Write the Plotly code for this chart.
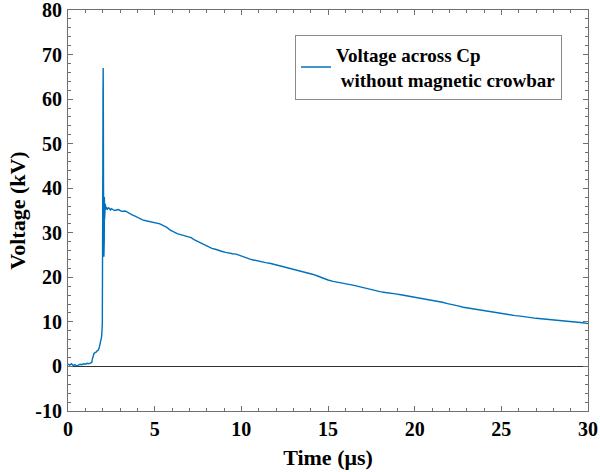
import plotly.graph_objects as go

time_us = [0.00, 0.10, 0.20, 0.30, 0.40, 0.50, 0.60, 0.70, 0.80, 0.90, 1.00, 1.10, 1.20, 1.30, 1.37,
           1.40, 1.45, 1.50, 1.56, 1.62, 1.68, 1.75, 1.80, 1.85, 1.90, 1.94, 1.98,
           2.00, 2.01, 2.02, 2.03, 2.04, 2.05, 2.06, 2.07, 2.08, 2.09, 2.10, 2.11, 2.12, 2.13,
           2.15, 2.18, 2.22, 2.27, 2.35, 2.45,
           2.5, 2.7, 2.9, 3.1, 3.3, 3.5, 3.7, 3.9, 4.1, 4.3, 4.5, 4.7, 4.9, 5.1, 5.3, 5.5, 5.7, 5.9,
           6.1, 6.3, 6.5, 6.7, 6.9, 7.1, 7.3, 7.5, 7.7, 7.9, 8.1, 8.3, 8.5, 8.7, 8.9, 9.1, 9.3, 9.5,
           9.7, 9.9, 10.1, 10.3, 10.5, 10.7, 10.9, 11.1, 11.4, 11.7, 12.0, 12.3, 12.6, 12.9, 13.2,
           13.5, 13.8, 14.1, 14.4, 14.7, 15.0, 15.3, 15.6, 15.9, 16.2, 16.5, 16.8, 17.1, 17.4, 17.7,
           18.0, 18.3, 18.6, 18.9, 19.2, 19.5, 19.8, 20.1, 20.4, 20.7, 21.0, 21.3, 21.6, 21.9, 22.2,
           22.5, 22.8, 23.1, 23.4, 23.7, 24.0, 24.3, 24.6, 24.9, 25.2, 25.5, 25.8, 26.1, 26.4, 26.7,
           27.0, 27.3, 27.6, 27.9, 28.2, 28.5, 28.8, 29.1, 29.4, 29.7, 30.0]

voltage_kv = [0.5, 0.3, 0.6, 0.2, 0.4, 0.1, 0.3, 0.5, 0.4, 0.6, 0.5, 0.7, 0.6, 0.8, 0.9,
              1.6, 2.6, 2.9, 3.1, 3.2, 3.5, 3.7, 4.2, 5.2, 5.9, 6.7, 9.5,
              20.0, 45.0, 62.0, 67.0, 55.0, 40.0, 30.0, 24.6, 34.0, 28.0, 38.0, 33.0, 37.5, 34.5,
              36.5, 35.2, 35.8, 35.3, 35.6, 35.1,
              35.4, 35.0, 35.2, 34.8, 34.9, 34.4, 34.0, 33.7, 33.3, 32.9, 32.7, 32.5, 32.4, 32.2, 32.0, 31.6, 31.2, 30.6,
              30.2, 29.8, 29.6, 29.4, 29.1, 28.9, 28.4, 28.0, 27.6, 27.2, 26.8, 26.5, 26.3, 26.0, 25.8, 25.6, 25.4, 25.3,
              25.2, 24.9, 24.6, 24.3, 24.1, 23.9, 23.7, 23.5, 23.3, 23.1, 22.8, 22.6, 22.3, 21.9, 21.7,
              21.4, 21.1, 20.7, 20.3, 19.8, 19.4, 19.1, 18.9, 18.7, 18.5, 18.2, 17.9, 17.6, 17.3, 17.0,
              16.8, 16.6, 16.5, 16.3, 16.1, 15.9, 15.7, 15.5, 15.3, 15.1, 14.9, 14.6, 14.4, 14.1, 13.9,
              13.6, 13.3, 13.1, 12.9, 12.7, 12.5, 12.4, 12.2, 12.0, 11.8, 11.6, 11.4, 11.3, 11.1, 11.0,
              10.8, 10.7, 10.6, 10.5, 10.3, 10.2, 10.1, 10.0, 9.9, 9.8, 9.6]

x_ticks = [0, 5, 10, 15, 20, 25, 30]
y_ticks = [-10, 0, 10, 20, 30, 40, 50, 60, 70, 80]

series_name = "Voltage across Cp<br>\u00a0without magnetic crowbar"

FONT = "Liberation Serif"
AXIS_COLOR = "#707070"

fig = go.Figure()
fig.add_trace(go.Scatter(
    x=time_us, y=voltage_kv, mode="lines", name=series_name,
    line=dict(color="#0072BD", width=1.4),
))

axis_common = dict(
    showline=True, linecolor=AXIS_COLOR, linewidth=1, mirror="allticks",
    ticks="inside", ticklen=5, tickcolor=AXIS_COLOR, tickwidth=1,
    showgrid=False, automargin=False, ticklabeloverflow="allow",
    tickfont=dict(family=FONT, size=20, color="black", weight="bold"),
)

fig.update_layout(
    width=600, height=472,
    margin=dict(l=68, r=12, t=10, b=61),
    paper_bgcolor="white", plot_bgcolor="white",
    font=dict(family=FONT, color="black"),
    showlegend=True,
    legend=dict(
        x=0.95, y=0.938, xanchor="right", yanchor="top",
        bordercolor="#8a8a8a", borderwidth=1, bgcolor="white",
        font=dict(family=FONT, size=19, color="black", weight="bold"),
    ),
    xaxis=dict(
        range=[0, 30], tickvals=x_ticks, ticktext=[str(v) for v in x_ticks],
        minor=dict(ticks="inside", dtick=1, ticklen=3, tickcolor=AXIS_COLOR),
        title=dict(text="Time (\u03bcs)", font=dict(family=FONT, size=22, weight="bold"), standoff=10),
        zeroline=False,
        **axis_common,
    ),
    yaxis=dict(
        range=[-10, 80], tickvals=y_ticks, ticktext=[str(v) for v in y_ticks],
        minor=dict(ticks="inside", dtick=2, ticklen=3, tickcolor=AXIS_COLOR),
        title=dict(text="Voltage (kV)", font=dict(family=FONT, size=22, weight="bold"), standoff=3),
        ticklabelstandoff=1,
        zeroline=True, zerolinecolor="#333333", zerolinewidth=1,
        **axis_common,
    ),
)

fig.write_html("out.html", config={"displayModeBar": False},
               post_script="document.body.style.margin='0';")
